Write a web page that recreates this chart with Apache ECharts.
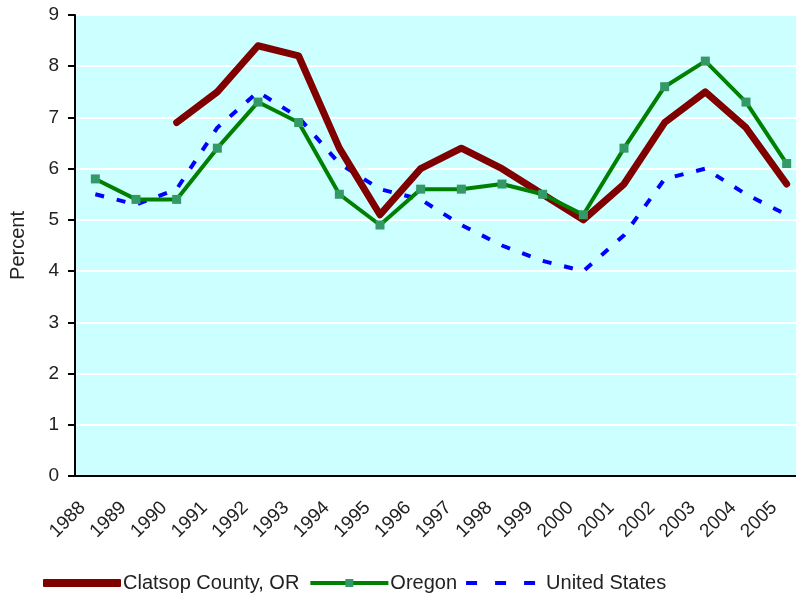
<!DOCTYPE html>
<html>
<head>
<meta charset="utf-8">
<script src="https://cdn.jsdelivr.net/npm/echarts@6/dist/echarts.min.js"></script>
<style>
  html, body { margin: 0; padding: 0; background: #fff; }
  #main { width: 796px; height: 597px; }
</style>
</head>
<body>
<div id="main"></div>
<script>
const years = ['1988', '1989', '1990', '1991', '1992', '1993', '1994', '1995', '1996',
  '1997', '1998', '1999', '2000', '2001', '2002', '2003', '2004', '2005'];
const clatsop = [null, null, 6.9, 7.5, 8.4, 8.2, 6.4, 5.1, 6.0, 6.4, 6.0, 5.5, 5.0, 5.7, 6.9, 7.5, 6.8, 5.7];
const oregon = [5.8, 5.4, 5.4, 6.4, 7.3, 6.9, 5.5, 4.9, 5.6, 5.6, 5.7, 5.5, 5.1, 6.4, 7.6, 8.1, 7.3, 6.1];
const unitedStates = [5.5, 5.3, 5.6, 6.8, 7.5, 7.0, 6.1, 5.6, 5.4, 4.9, 4.5, 4.2, 4.0, 4.7, 5.8, 6.0, 5.5, 5.1];

const font = 'Liberation Sans, Arial, sans-serif';

const chart = echarts.init(document.getElementById('main'), null, { renderer: 'canvas' });

// the original plot runs past the right edge of the picture, so the grid is wider than the page
chart.setOption({
  animation: false,
  backgroundColor: '#fff',
  textStyle: { fontFamily: font },
  grid: {
    left: 75, right: -11, top: 15, bottom: 121,
    outerBoundsMode: 'none',
    containLabel: false,
    show: true, backgroundColor: '#CCFFFF', borderColor: '#333', borderWidth: 1
  },
  legend: {
    left: 38, top: 568,
    itemWidth: 78, itemHeight: 10, itemGap: 9,
    textStyle: { fontSize: 20, color: '#222', fontFamily: font, padding: [0, 0, 0, -3] },
    data: [
      { name: 'Clatsop County, OR', icon: 'path://M1 0H77Q78 0 78 1V7Q78 8 77 8H1Q0 8 0 7V1Q0 0 1 0Z' },
      { name: 'Oregon', lineStyle: { width: 4, color: '#008000' } },
      { name: 'United States', icon: 'path://M0 0H11V4H0Z M29 0H40V4H29Z M58 0H69V4H58Z M77.9 1.9H78V2H77.9Z' }
    ]
  },
  xAxis: {
    type: 'category',
    data: years,
    boundaryGap: true,
    axisLine: { lineStyle: { color: '#000', width: 2 } },
    axisTick: { length: 7, lineStyle: { color: '#000', width: 2 } },
    axisLabel: { rotate: 45, fontSize: 19, color: '#222', margin: 16, padding: [0, 18, 0, 0], fontFamily: font },
    splitLine: { show: false }
  },
  yAxis: {
    type: 'value',
    min: 0, max: 9, interval: 1,
    name: 'Percent',
    nameLocation: 'middle',
    nameGap: 47,
    nameTextStyle: { fontSize: 20, color: '#222', fontFamily: font },
    axisLine: { show: true, lineStyle: { color: '#000', width: 2 } },
    axisTick: { show: true, length: 7, lineStyle: { color: '#000', width: 2 } },
    axisLabel: { fontSize: 19, color: '#222', margin: 16, fontFamily: font },
    splitLine: { lineStyle: { color: '#fff', width: 2 } }
  },
  series: [
    {
      name: 'Clatsop County, OR',
      type: 'line',
      data: clatsop,
      symbol: 'none',
      connectNulls: false,
      lineStyle: { color: '#800000', width: 7, cap: 'round', join: 'round' },
      itemStyle: { color: '#800000' },
      z: 3
    },
    {
      name: 'Oregon',
      type: 'line',
      data: oregon,
      symbol: 'rect',
      symbolSize: 9,
      lineStyle: { color: '#008000', width: 4 },
      itemStyle: { color: '#339966', borderWidth: 0 },
      z: 4
    },
    {
      name: 'United States',
      type: 'line',
      data: unitedStates,
      symbol: 'none',
      lineStyle: { color: '#0000FF', width: 4, type: [9, 13] },
      itemStyle: { color: '#0000FF' },
      z: 2
    }
  ]
});
</script>
</body>
</html>
